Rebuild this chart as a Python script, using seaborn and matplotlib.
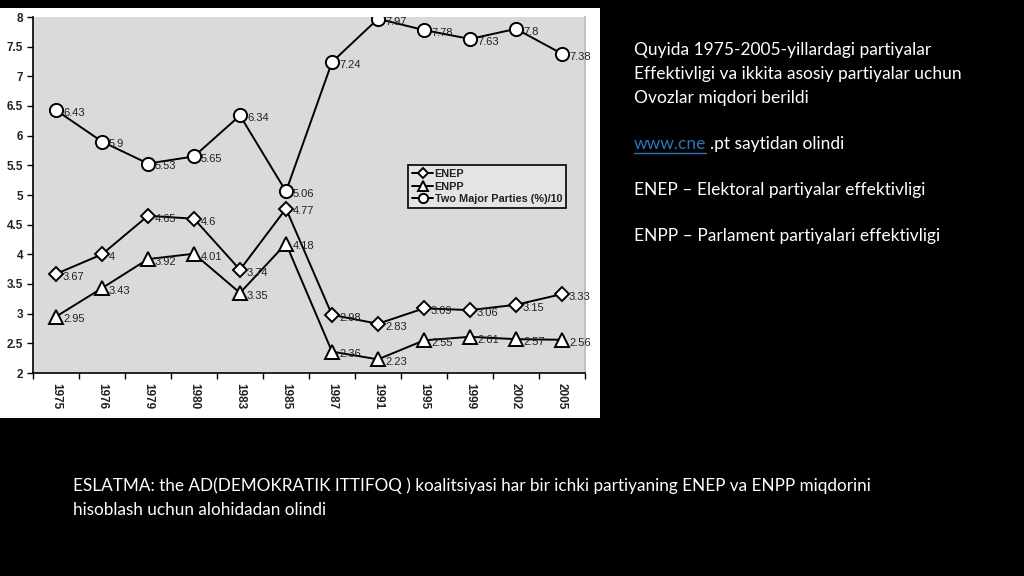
import matplotlib
matplotlib.use("Agg")
import matplotlib.pyplot as plt
import seaborn as sns
import numpy as np
from matplotlib.patches import Rectangle
from matplotlib.ticker import FixedLocator, FuncFormatter

years = ["1975", "1976", "1979", "1980", "1983", "1985", "1987", "1991", "1995", "1999", "2002", "2005"]
enep = [3.67, 4, 4.65, 4.6, 3.74, 4.77, 2.98, 2.83, 3.09, 3.06, 3.15, 3.33]
enpp = [2.95, 3.43, 3.92, 4.01, 3.35, 4.18, 2.36, 2.23, 2.55, 2.61, 2.57, 2.56]
two_major = [6.43, 5.9, 5.53, 5.65, 6.34, 5.06, 7.24, 7.97, 7.78, 7.63, 7.8, 7.38]
series_names = ["ENEP", "ENPP", "Two Major Parties (%)/10"]

sns.set_theme(style="white")
plt.rcParams["font.family"] = ["Liberation Sans", "DejaVu Sans"]

fig = plt.figure(figsize=(10.24, 5.76), dpi=100, facecolor="black")

# white picture background of the embedded chart
fig.patches.append(Rectangle((0, 1 - 418 / 576), 600 / 1024, 410 / 576,
                             transform=fig.transFigure, facecolor="white",
                             edgecolor="none", zorder=-10))

ax = fig.add_axes([33 / 1024, 1 - 373 / 576, 552 / 1024, 356 / 576])
ax.set_zorder(5)
ax.set_facecolor("#dadada")

specs = [(enep, "D", 7), (enpp, "^", 9.5), (two_major, "o", 9.5)]
for (vals, mk, ms), name in zip(specs, series_names):
    sns.lineplot(x=years, y=vals, ax=ax, color="black", lw=1.4, marker=mk,
                 markersize=ms, markerfacecolor="white", markeredgecolor="black",
                 markeredgewidth=1.4, label=name, sort=False)
    for i, v in enumerate(vals):
        ax.annotate(f"{v:g}", (i, v), xytext=(5, -2), textcoords="offset points",
                    fontsize=8, color="#222222", va="center", ha="left")

ax.set_xlim(-0.5, len(years) - 0.5)
ax.set_ylim(2, 8)
ax.yaxis.set_major_locator(FixedLocator(np.arange(2, 8.01, 0.5)))
ax.yaxis.set_major_formatter(FuncFormatter(lambda v, p: f"{v:g}"))
ax.set_xticks(range(len(years)))
ax.set_xticklabels(years, rotation=-90, fontsize=8.5, fontweight="bold", color="#222222")
ax.set_xticks(np.arange(-0.5, len(years), 1.0), minor=True)
ax.tick_params(axis="x", which="major", length=0, pad=7)
ax.tick_params(axis="x", which="minor", length=4, width=1, color="black", direction="out", bottom=True)
ax.tick_params(axis="y", which="major", length=4, width=1, color="black", direction="out",
               left=True, labelsize=8.5, labelcolor="#222222", pad=3)
for t in ax.get_yticklabels():
    t.set_fontweight("bold")
ax.set_xlabel("")
ax.set_ylabel("")
ax.spines["top"].set_visible(False)
ax.spines["right"].set_color("#bbbbbb")
ax.spines["left"].set_color("black")
ax.spines["bottom"].set_color("black")
ax.spines["left"].set_linewidth(1.2)
ax.spines["bottom"].set_linewidth(1.2)

leg = ax.legend(loc="upper left", bbox_to_anchor=((408 - 33) / 552, (373 - 165) / 356),
                frameon=True, fancybox=False, edgecolor="black", facecolor="#e4e4e4",
                framealpha=1, fontsize=7.8, handlelength=2.0, handletextpad=0.1,
                borderpad=0.35, labelspacing=0.25, borderaxespad=0, markerscale=0.7)
leg.get_frame().set_linewidth(1.2)
for t in leg.get_texts():
    t.set_fontweight("bold")
    t.set_color("#222222")

txt_font = ["Lato", "DejaVu Sans"]
fs = 12.5
right_lines = [
    (634, 50, "Quyida 1975-2005-yillardagi partiyalar"),
    (634, 74, "Effektivligi va ikkita asosiy partiyalar uchun"),
    (634, 98, "Ovozlar miqdori berildi"),
    (634, 190, "ENEP \u2013 Elektoral partiyalar effektivligi"),
    (634, 236, "ENPP \u2013 Parlament partiyalari effektivligi"),
]
for x, y, s in right_lines:
    fig.text(x / 1024, 1 - y / 576, s, color="white", fontsize=fs,
             family=txt_font, va="center", ha="left")

t1 = fig.text(634 / 1024, 1 - 144 / 576, "www.cne", color="#2e74b5", fontsize=fs,
              family=txt_font, va="center", ha="left")
fig.canvas.draw()
bb = t1.get_window_extent()
fig.lines.append(plt.Line2D([bb.x0 / 1024, bb.x1 / 1024], [1 - 153 / 576, 1 - 153 / 576],
                            transform=fig.transFigure, color="#2e74b5", lw=1))
fig.text(bb.x1 / 1024 + 4 / 1024, 1 - 144 / 576, ".pt saytidan olindi", color="white",
         fontsize=fs, family=txt_font, va="center", ha="left")

bottom_lines = [
    (73, 486, "ESLATMA: the AD(DEMOKRATIK ITTIFOQ ) koalitsiyasi har bir ichki partiyaning ENEP va ENPP miqdorini"),
    (73, 510, "hisoblash uchun alohidadan olindi"),
]
bt = []
for x, y, s in bottom_lines:
    bt.append(fig.text(x / 1024, 1 - y / 576, s, color="white", fontsize=12,
                       family=txt_font, va="center", ha="left"))
fig.canvas.draw()
w = bt[0].get_window_extent().width
scale = 793 / w
for t in bt:
    t.set_fontsize(12 * scale)

fig.savefig("out.png", dpi=100, facecolor="black")
